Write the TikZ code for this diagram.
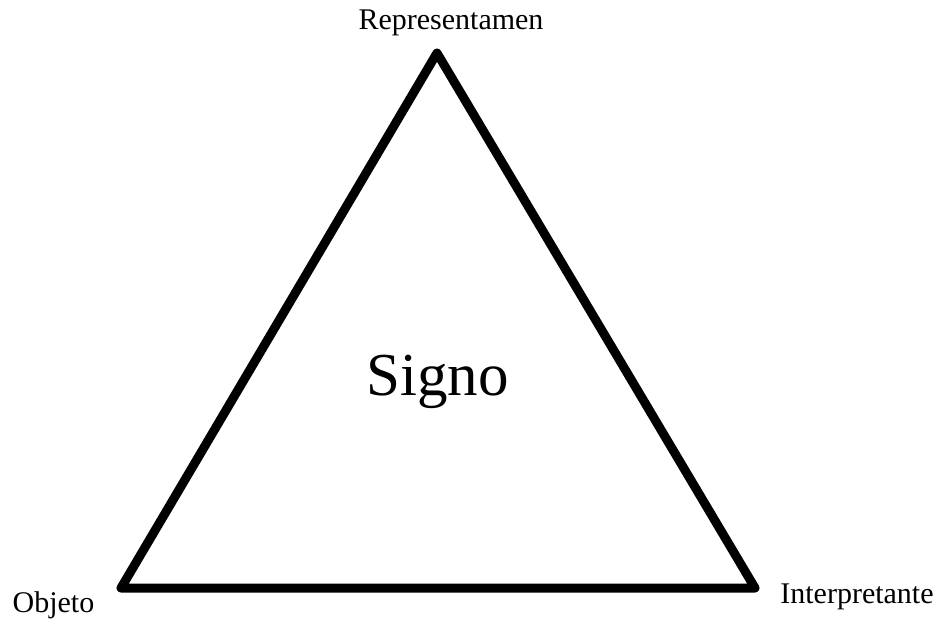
\documentclass[tikz,border=0pt]{standalone}
\usepackage{fontspec}
\setmainfont{Liberation Serif}
\begin{document}
\begin{tikzpicture}[x=1pt,y=-1pt,
  lbl/.style={inner sep=0pt,anchor=base,font=\fontsize{30}{33}\selectfont},
  big/.style={inner sep=0pt,anchor=base,font=\fontsize{61}{66}\selectfont},
  edge/.style={line width=9pt,line join=round,line cap=round}]
\useasboundingbox (0,0) rectangle (938,621);
\coordinate (R) at (437,53);
\coordinate (O) at (121,588);
\coordinate (I) at (755,588);
\draw[edge] (R) -- (O) -- (I) -- cycle;
\node[lbl] (rep) at (451,30) {Representamen};
\node[lbl] (obj) at (53.5,612) {Objeto};
\node[lbl] (int) at (857,603) {Interpretante};
\node[big] (sig) at (437.5,395) {Signo};
\end{tikzpicture}
\end{document}
